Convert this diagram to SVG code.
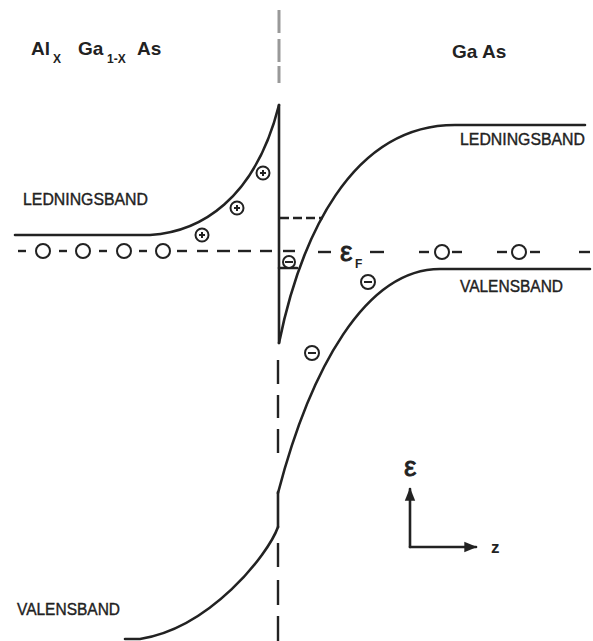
<svg xmlns="http://www.w3.org/2000/svg" width="593" height="641" viewBox="0 0 593 641">
<style>
.band{fill:none;stroke:#222;stroke-width:2.6;stroke-linecap:round}
.dash{fill:none;stroke:#222;stroke-width:2.4}
.gray{stroke:#999;stroke-width:3}
.lbl{font-family:"Liberation Sans",Arial,sans-serif;font-size:17px;fill:#222;stroke:#222;stroke-width:0.4}
.ttl{font-family:"Liberation Sans",Arial,sans-serif;font-size:19px;font-weight:bold;fill:#222}
.sub{font-family:"Liberation Sans",Arial,sans-serif;font-size:12px;font-weight:bold;fill:#222}
.eps{font-family:"Liberation Sans",Arial,sans-serif;font-size:28px;fill:#222;stroke:#222;stroke-width:0.8}
.chg{fill:#fff;stroke:#222;stroke-width:2}
.sym{stroke:#222;stroke-width:2}
.fc{fill:#fff;stroke:#222;stroke-width:2}
</style>
<defs>
<marker id="ah" viewBox="0 0 10 10" refX="9" refY="5" markerWidth="5" markerHeight="5" orient="auto-start-reverse">
<path d="M0,1 L10,5 L0,9 Z" fill="#222"/>
</marker>
</defs>
<rect width="593" height="641" fill="#fff"/>

<g id="titles">
<text class="ttl" x="31" y="55">Al</text><text class="sub" x="53" y="63">X</text>
<text class="ttl" x="78" y="55">Ga</text><text class="sub" x="107" y="63">1-X</text>
<text class="ttl" x="137" y="55">As</text>
<text class="ttl" x="452" y="58">Ga As</text>
</g>

<g id="labels">
<text class="lbl" x="23" y="205" textLength="125" lengthAdjust="spacingAndGlyphs">LEDNINGSBAND</text>
<text class="lbl" x="460" y="145" textLength="125" lengthAdjust="spacingAndGlyphs">LEDNINGSBAND</text>
<text class="lbl" x="460" y="292" textLength="103" lengthAdjust="spacingAndGlyphs">VALENSBAND</text>
<text class="lbl" x="17" y="615" textLength="103" lengthAdjust="spacingAndGlyphs">VALENSBAND</text>
</g>

<g id="interface">
<line class="gray" x1="279" y1="10" x2="279" y2="33"/>
<line class="gray" x1="279" y1="39" x2="279" y2="62"/>
<line class="gray" x1="279" y1="66" x2="279" y2="83"/>
<line class="band" x1="279" y1="105" x2="279" y2="343"/>
<line class="dash" x1="278" y1="360" x2="278" y2="384"/>
<line class="dash" x1="278" y1="395" x2="278" y2="418"/>
<line class="dash" x1="278" y1="429" x2="278" y2="453"/>
<line class="band" x1="278" y1="492" x2="278" y2="527"/>
<line class="dash" x1="278" y1="543" x2="278" y2="567"/>
<line class="dash" x1="278" y1="580" x2="278" y2="605"/>
<line class="dash" x1="278" y1="616" x2="278" y2="641"/>
</g>

<g id="bands">
<path class="band" d="M15,235 L150,235 C200,232 255,200 279,105"/>
<path class="band" d="M279,343 C300,240 350,125 455,125 L585,125"/>
<path class="band" d="M590,269 L440,269 C365,269 310,370 278,493"/>
<path class="band" d="M278,527 C268,555 210,628 140,639 L125,639"/>
</g>

<g id="fermi">
<line class="dash" x1="18" y1="251" x2="26" y2="251"/>
<circle class="fc" cx="43" cy="251" r="7"/>
<line class="dash" x1="59" y1="251" x2="67" y2="251"/>
<circle class="fc" cx="83" cy="251" r="7"/>
<line class="dash" x1="99" y1="251" x2="107" y2="251"/>
<circle class="fc" cx="124" cy="251" r="7"/>
<line class="dash" x1="139" y1="251" x2="147" y2="251"/>
<circle class="fc" cx="163" cy="251" r="7"/>
<line class="dash" x1="177" y1="251" x2="187" y2="251"/>
<line class="dash" x1="197" y1="251" x2="208" y2="251"/>
<line class="dash" x1="217" y1="251" x2="230" y2="251"/>
<line class="dash" x1="238" y1="251" x2="251" y2="251"/>
<line class="dash" x1="260" y1="251" x2="272" y2="251"/>
<line class="dash" x1="283" y1="251" x2="295" y2="251"/>
<line class="dash" x1="318" y1="252" x2="331" y2="252"/>
<line class="dash" x1="370" y1="252" x2="384" y2="252"/>
<line class="dash" x1="419" y1="252" x2="429" y2="252"/>
<circle class="fc" cx="442" cy="252" r="7"/>
<line class="dash" x1="452" y1="252" x2="462" y2="252"/>
<line class="dash" x1="497" y1="252" x2="507" y2="252"/>
<circle class="fc" cx="519" cy="252" r="7"/>
<line class="dash" x1="530" y1="252" x2="540" y2="252"/>
<line class="dash" x1="579" y1="252" x2="590" y2="252"/>
<text class="eps" x="340" y="261">ε</text>
<text class="sub" x="355" y="268">F</text>
</g>

<g id="well">
<path class="dash" d="M280,218 L323,218" stroke-dasharray="9,4"/>
<line class="band" x1="279" y1="268" x2="297" y2="268"/>
<circle class="chg" cx="289" cy="262" r="6"/>
<line class="sym" x1="285" y1="262" x2="293" y2="262"/>
</g>

<g id="charges">
<circle class="chg" cx="263" cy="173" r="6.5"/>
<path class="sym" d="M260,173 H266 M263,170 V176" stroke-width="1.6"/>
<circle class="chg" cx="237" cy="208" r="6.5"/>
<path class="sym" d="M234,208 H240 M237,205 V211" stroke-width="1.6"/>
<circle class="chg" cx="202" cy="235" r="6.5"/>
<path class="sym" d="M199,235 H205 M202,232 V238" stroke-width="1.6"/>
<circle class="chg" cx="368" cy="282" r="7"/>
<line class="sym" x1="364" y1="282" x2="372" y2="282"/>
<circle class="chg" cx="312" cy="353" r="7"/>
<line class="sym" x1="308" y1="353" x2="316" y2="353"/>
</g>

<g id="axes">
<line class="band" x1="410" y1="547" x2="410" y2="489" marker-end="url(#ah)" stroke-width="2.2"/>
<line class="band" x1="410" y1="547" x2="476" y2="547" marker-end="url(#ah)" stroke-width="2.2"/>
<text class="eps" x="404" y="476">ε</text>
<text class="ttl" x="491" y="553" style="font-size:17px">z</text>
</g>
</svg>
